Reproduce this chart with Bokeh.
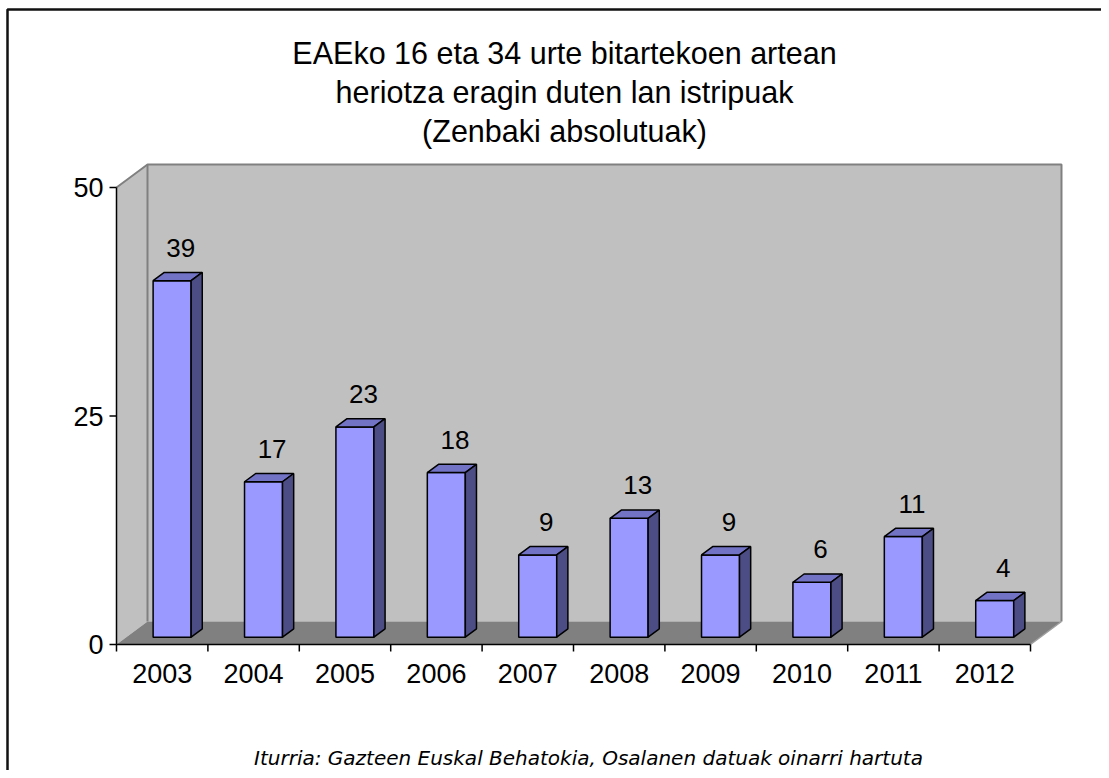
from bokeh.plotting import figure
from bokeh.models import Range1d
from bokeh.embed import file_html
from bokeh.resources import INLINE
from bokeh.core.properties import value

# ---------------- data ----------------
title_lines = [
    "EAEko 16 eta 34 urte bitartekoen artean",
    "heriotza eragin duten lan istripuak",
    "(Zenbaki absolutuak)",
]
years = ["2003", "2004", "2005", "2006", "2007", "2008", "2009", "2010", "2011", "2012"]
deaths = [39, 17, 23, 18, 9, 13, 9, 6, 11, 4]
y_ticks = [0, 25, 50]
source_note = "Iturria: Gazteen Euskal Behatokia, Osalanen datuak oinarri hartuta"

# ---------------- layout (picture pixels) ----------------
W, H = 1101, 770
LEFT, TOP = 0, 0
AX_X0, AX_X1 = 116, 1030      # front category axis extent
AX_Y0, AX_Y1 = 644, 187       # pixel rows of 0 and YMAX
YMAX = 50
DEPTH_DX, DEPTH_DY = 31, 23   # 3-D depth offset in pixels
BAR_W_PX = 38
F0, F1 = 0.32, 0.68           # bar depth fractions

n = len(years)
cw = (AX_X1 - AX_X0) / n
ppu = (AX_Y0 - AX_Y1) / YMAX


def X(px):
    return (px - AX_X0) / cw - 0.5


def Y(py):
    return (AX_Y0 - py) / ppu


ddx = DEPTH_DX / cw
ddy = DEPTH_DY / ppu
bw = BAR_W_PX / cw

FONT = value("Liberation Sans")

p = figure(
    width=W, height=H,
    x_range=Range1d(X(LEFT), X(LEFT + W)),
    y_range=Range1d(Y(TOP + H), Y(TOP)),
    output_backend="svg", toolbar_location=None,
    x_axis_type=None, y_axis_type=None,
    min_border=0, outline_line_color=None,
    background_fill_color="white", border_fill_color="white",
)
p.grid.visible = False

xl, xr = -0.5, n - 0.5
y0, y1 = 0, YMAX

WALL = "#C0C0C0"
EDGE = "#808080"

# side wall, back wall, floor
p.patch([xl, xl + ddx, xl + ddx, xl], [y1, y1 + ddy, y0 + ddy, y0],
        fill_color=WALL, line_color=None)
p.patch([xl + ddx, xr + ddx, xr + ddx, xl + ddx], [y0 + ddy, y0 + ddy, y1 + ddy, y1 + ddy],
        fill_color=WALL, line_color=None)
p.patch([xl, xl + ddx, xr + ddx, xr], [y0, y0 + ddy, y0 + ddy, y0],
        fill_color="#808080", line_color=None)
# wall edges
p.line([xl, xl + ddx, xr + ddx, xr + ddx], [y1, y1 + ddy, y1 + ddy, y0 + ddy],
       line_color=EDGE, line_width=2)
p.line([xl + ddx, xl + ddx], [y1 + ddy, y0 + ddy], line_color=EDGE, line_width=2)
p.line([xr, xr + ddx], [y0, y0 + ddy], line_color="#A0A0A0", line_width=1.5)

# bars
front_x, front_y, top_x, top_y, side_x, side_y = [], [], [], [], [], []
for i, v in enumerate(deaths):
    xa = i - bw / 2 + F0 * ddx
    xb = i + bw / 2 + F0 * ddx
    sx = (F1 - F0) * ddx
    b0 = F0 * ddy
    b1 = F1 * ddy
    front_x.append([xa, xb, xb, xa])
    front_y.append([b0, b0, v + b0, v + b0])
    top_x.append([xa, xb, xb + sx, xa + sx])
    top_y.append([v + b0, v + b0, v + b1, v + b1])
    side_x.append([xb, xb + sx, xb + sx, xb])
    side_y.append([b0, b1, v + b1, v + b0])

p.patches(front_x, front_y, fill_color="#9999FF", line_color="black", line_width=1.5)
p.patches(top_x, top_y, fill_color="#7373C6", line_color="black", line_width=1.5)
p.patches(side_x, side_y, fill_color="#4D4D85", line_color="black", line_width=1.5)

# data labels
p.text(x=[i + 0.5 * ddx + 3 / cw for i in range(n)],
       y=[v + F0 * ddy + 33 / ppu for v in deaths],
       text=[str(v) for v in deaths],
       text_font=FONT, text_font_size="26px", text_color="black",
       text_align="center", text_baseline="middle")

# axes
p.line([xl, xl], [y0, y1], line_color="black", line_width=1.5)
p.line([xl, xr], [y0, y0], line_color="black", line_width=1.5)
tick_len = 7
p.segment(x0=[xl] * len(y_ticks), y0=y_ticks,
          x1=[xl - tick_len / cw] * len(y_ticks), y1=y_ticks,
          line_color="black", line_width=1.5)
p.segment(x0=[k - 0.5 for k in range(n + 1)], y0=[0] * (n + 1),
          x1=[k - 0.5 for k in range(n + 1)], y1=[-tick_len / ppu] * (n + 1),
          line_color="black", line_width=1.5)
p.text(x=[X(103)] * len(y_ticks), y=y_ticks, text=[str(t) for t in y_ticks],
       text_font=FONT, text_font_size="27px", text_color="black",
       text_align="right", text_baseline="middle")
p.text(x=list(range(n)), y=[Y(673)] * n, text=years,
       text_font=FONT, text_font_size="27px", text_color="black",
       text_align="center", text_baseline="middle")

# title
p.text(x=[X(564)] * 3, y=[Y(52), Y(91), Y(130)], text=title_lines,
       text_font=FONT, text_font_size="30.5px", text_color="black",
       text_align="center", text_baseline="middle")

# source note
p.text(x=[X(588)], y=[Y(757)], text=[source_note],
       text_font=value("DejaVu Sans"), text_font_size="20px", text_font_style="italic",
       text_color="black", text_align="center", text_baseline="middle")

# chart border (top and left edges visible)
p.line([X(LEFT + W), X(7), X(7)], [Y(9), Y(9), Y(TOP + H)],
       line_color="#111111", line_width=2.5)

open("out.html", "w").write(file_html(p, INLINE))
